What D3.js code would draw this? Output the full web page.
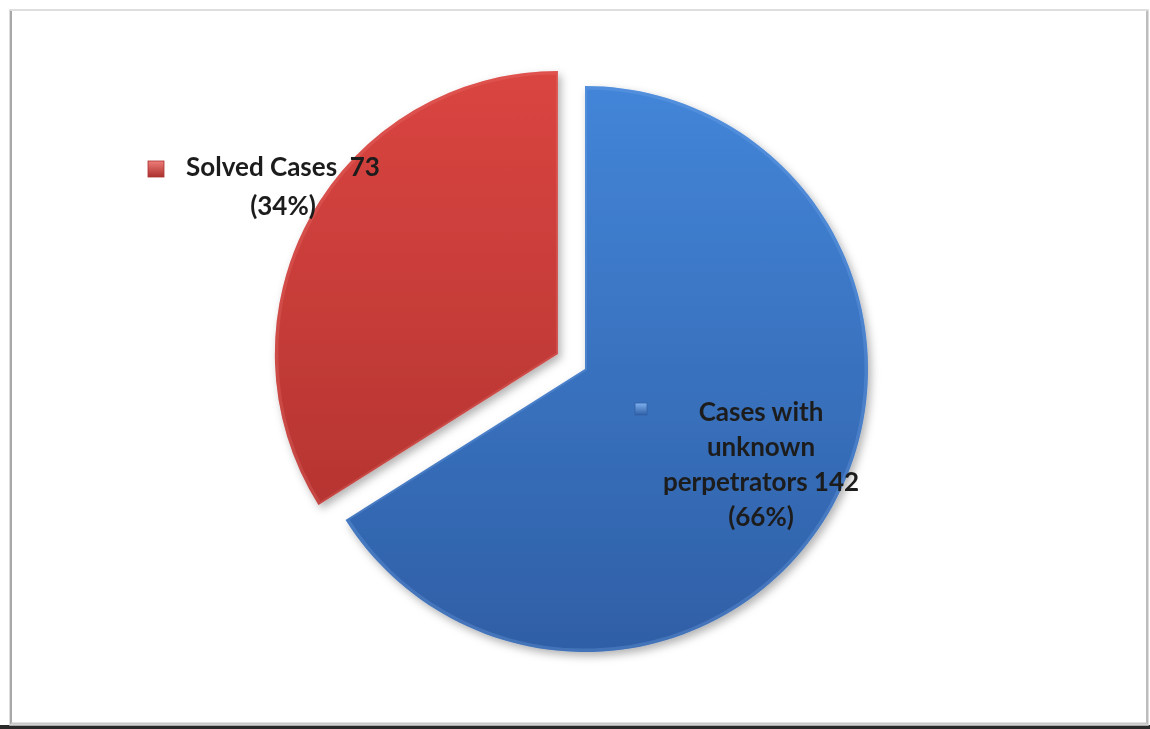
<!DOCTYPE html>
<html>
<head>
<meta charset="utf-8">
<script src="https://cdn.jsdelivr.net/npm/d3@7"></script>
<style>
  html, body { margin: 0; padding: 0; background: #ffffff; }
  svg { display: block; }
</style>
</head>
<body>
<svg id="chart" width="1150" height="729"></svg>
<script>
// Case outcomes
const categories = ["Cases with unknown perpetrators", "Solved Cases"];
const values = [142, 73];
const labelLines = [
  ["Cases with", "unknown", "perpetrators 142", "(66%)"],
  ["Solved Cases  73", "(34%)"]
];
const sliceColors = [
  { top: "#4385d8", bottom: "#2f5fa6", edge: "#7fb0ee" },
  { top: "#da4541", bottom: "#ab302d", edge: "#ee7d79" }
];

const W = 1150, H = 729;
const cx = 585, cy = 369, radius = 283;
const explode = [0, 31];

const svg = d3.select("#chart");
const defs = svg.append("defs");

// soft shadow under the slices
const shadow = defs.append("filter").attr("id", "shadow")
  .attr("x", "-20%").attr("y", "-20%").attr("width", "140%").attr("height", "140%");
shadow.append("feDropShadow").attr("dx", 3).attr("dy", 4)
  .attr("stdDeviation", 4).attr("flood-color", "#000").attr("flood-opacity", 0.3);

const textBlur = defs.append("filter").attr("id", "soft");
textBlur.append("feGaussianBlur").attr("stdDeviation", 0.5);

sliceColors.forEach((c, i) => {
  // gradient in each slice's own frame (origin at the pie centre)
  const g = defs.append("linearGradient").attr("id", "grad" + i)
    .attr("gradientUnits", "userSpaceOnUse")
    .attr("x1", 0).attr("y1", -radius).attr("x2", 0).attr("y2", radius);
  g.append("stop").attr("offset", "0%").attr("stop-color", c.top);
  g.append("stop").attr("offset", "100%").attr("stop-color", c.bottom);
  const k = defs.append("linearGradient").attr("id", "key" + i)
    .attr("x1", 0).attr("y1", 0).attr("x2", 0).attr("y2", 1);
  k.append("stop").attr("offset", "0%").attr("stop-color", c.edge);
  k.append("stop").attr("offset", "100%").attr("stop-color", c.bottom);
});

// chart frame
svg.append("rect").attr("x", 0).attr("y", 725).attr("width", W).attr("height", 4).attr("fill", "#2a2a2a");
svg.append("rect").attr("x", 10).attr("y", 10).attr("width", 1138).attr("height", 715)
  .attr("fill", "#ffffff").attr("stroke", "#d4d4d4").attr("stroke-width", 1.5);
svg.append("line").attr("x1", 11).attr("y1", 11).attr("x2", 11).attr("y2", 724)
  .attr("stroke", "#a8a8a8").attr("stroke-width", 2);
svg.append("line").attr("x1", 1147).attr("y1", 11).attr("x2", 1147).attr("y2", 724)
  .attr("stroke", "#bdbdbd").attr("stroke-width", 2);
svg.append("line").attr("x1", 11).attr("y1", 723.5).attr("x2", 1147).attr("y2", 723.5)
  .attr("stroke", "#c8c8c8").attr("stroke-width", 2);

const pie = d3.pie().sort(null).startAngle(0).endAngle(2 * Math.PI);
const arcs = pie(values);
const arc = d3.arc().innerRadius(0).outerRadius(radius);
const rim = d3.arc().innerRadius(0).outerRadius(radius - 1.5);

const slices = svg.append("g").selectAll("g.slice").data(arcs).join("g")
  .attr("class", "slice")
  .attr("transform", (d, i) => {
    const mid = (d.startAngle + d.endAngle) / 2;
    const dx = Math.sin(mid) * explode[i];
    const dy = -Math.cos(mid) * explode[i];
    return `translate(${cx + dx},${cy + dy})`;
  });

slices.append("path")
  .attr("d", arc)
  .attr("fill", (d, i) => `url(#grad${i})`)
  .attr("filter", "url(#shadow)");

// faint light rim along the slice edges (bevel)
slices.each(function (d, i) {
  const g = d3.select(this);
  const clipId = "clip" + i;
  defs.append("clipPath").attr("id", clipId).append("path").attr("d", arc(d));
  g.append("path")
    .attr("d", rim(d))
    .attr("fill", "none")
    .attr("clip-path", `url(#${clipId})`)
    .attr("stroke", sliceColors[i].edge)
    .attr("stroke-opacity", 0.25)
    .attr("stroke-width", 4)
    .attr("stroke-linejoin", "round");
});

// data labels with legend keys
const labelPos = [
  { x: 761, y: 413, key: { x: 635, y: 403, s: 12 } },
  { x: 283, y: 168, key: { x: 148, y: 161, s: 16 } }
];
const lineH = [35, 39];

const labels = svg.append("g").attr("filter", "url(#soft)");
labelPos.forEach((p, i) => {
  labels.append("rect")
    .attr("x", p.key.x).attr("y", p.key.y).attr("width", p.key.s).attr("height", p.key.s)
    .attr("fill", `url(#key${i})`)
    .attr("stroke", sliceColors[i].bottom).attr("stroke-width", 0.8);
  const t = labels.append("text")
    .attr("text-anchor", "middle")
    .attr("font-family", "Lato, 'Open Sans', sans-serif")
    .attr("font-weight", 700)
    .attr("font-size", 26)
    .attr("fill", "#1c1c1c")
    .style("white-space", "pre");
  labelLines[i].forEach((ln, j) => {
    t.append("tspan").attr("x", p.x).attr("y", p.y + 8 + j * lineH[i]).text(ln);
  });
});
</script>
</body>
</html>
